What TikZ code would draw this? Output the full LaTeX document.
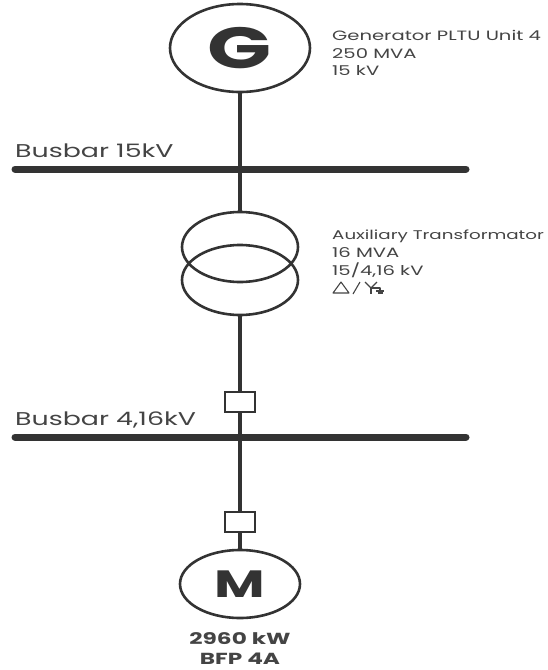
\documentclass[tikz,border=0pt]{standalone}
\usepackage{fontspec}
\setmainfont{Poppins}[FakeStretch=1.45]
\usetikzlibrary{shapes.geometric}
\definecolor{ink}{HTML}{333333}
\definecolor{txt}{HTML}{444444}
\tikzset{
  elem/.style={ellipse, draw=ink, line width=2.6pt, inner sep=0pt},
  brk/.style={rectangle, draw=ink, line width=2.4pt, fill=white, minimum width=30pt, minimum height=20pt, inner sep=0pt},
  wire/.style={draw=ink, line width=3.6pt},
  bus/.style={draw=ink, line width=7pt, line cap=round},
  lbl/.style={anchor=base west, inner sep=0pt, text=txt, font=\fontsize{13.5}{13.5}\selectfont},
  buslbl/.style={anchor=base west, inner sep=0pt, text=txt, font=\fontsize{18.5}{18.5}\selectfont},
  btm/.style={anchor=base, inner sep=0pt, text=txt, font=\fontsize{16}{16}\selectfont\bfseries},
  sym/.style={draw=txt, line width=1.1pt, line join=round}
}
\begin{document}
\begin{tikzpicture}[x=1pt,y=-1pt]
\useasboundingbox (0,0) rectangle (547,670);
% elements
\node[elem, minimum width=140pt, minimum height=88pt] (G) at (240,48) {\fontsize{58}{58}\selectfont\bfseries\color{ink}G};
\node[elem, minimum width=116pt, minimum height=70pt] (T1) at (240,247) {};
\node[elem, minimum width=116pt, minimum height=70pt] (T2) at (240,280) {};
\node[brk] (B1) at (240,402) {};
\node[brk] (B2) at (240,522) {};
\node[elem, minimum width=120pt, minimum height=68pt] (M) at (240,584) {\fontsize{38}{38}\selectfont\bfseries\color{ink}M};
% busbars
\coordinate (b1w) at (15,169); \coordinate (b1e) at (466,169);
\coordinate (b2w) at (15,437); \coordinate (b2e) at (466,437);
\draw[bus] (b1w) -- (b1e);
\draw[bus] (b2w) -- (b2e);
% wires
\draw[wire] (G.south) -- (T1.north);
\draw[wire] (T2.south) -- (B1.north);
\draw[wire] (B1.south) -- (B2.north);
\draw[wire] (B2.south) -- (M.north);
\node[brk] at (B1) {};
\node[brk] at (B2) {};
% labels
\node[buslbl] (lb1) at (15,157) {Busbar 15kV};
\node[buslbl] (lb2) at (15,425) {Busbar 4,16kV};
\node[lbl] (g1) at (332,40) {Generator PLTU Unit 4};
\node[lbl] (g2) at (332,58) {250 MVA};
\node[lbl] (g3) at (332,75) {15 kV};
\node[lbl, font=\fontsize{12.6}{12.6}\selectfont] (t1) at (332,239) {Auxiliary Transformator};
\node[lbl] (t2) at (332,257) {16 MVA};
\node[lbl] (t3) at (332,275) {15/4,16 kV};
% delta / star-earth symbol
\draw[sym] (333,293) -- (349,293) -- (341,282) -- cycle;
\draw[sym] (353,294) -- (360,282);
\draw[sym] (365,282) -- (371,288) -- (377,282);
\draw[sym] (371,288) -- (371,294);
\draw[sym] (371,288) -- (380,288) -- (380,291);
\draw[sym] (376,291) -- (384,291);
\draw[sym] (377.5,293) -- (382.5,293);
\node[btm] (m1) at (240,644) {2960 kW};
\node[btm] (m2) at (240,664) {BFP 4A};
\end{tikzpicture}
\end{document}
